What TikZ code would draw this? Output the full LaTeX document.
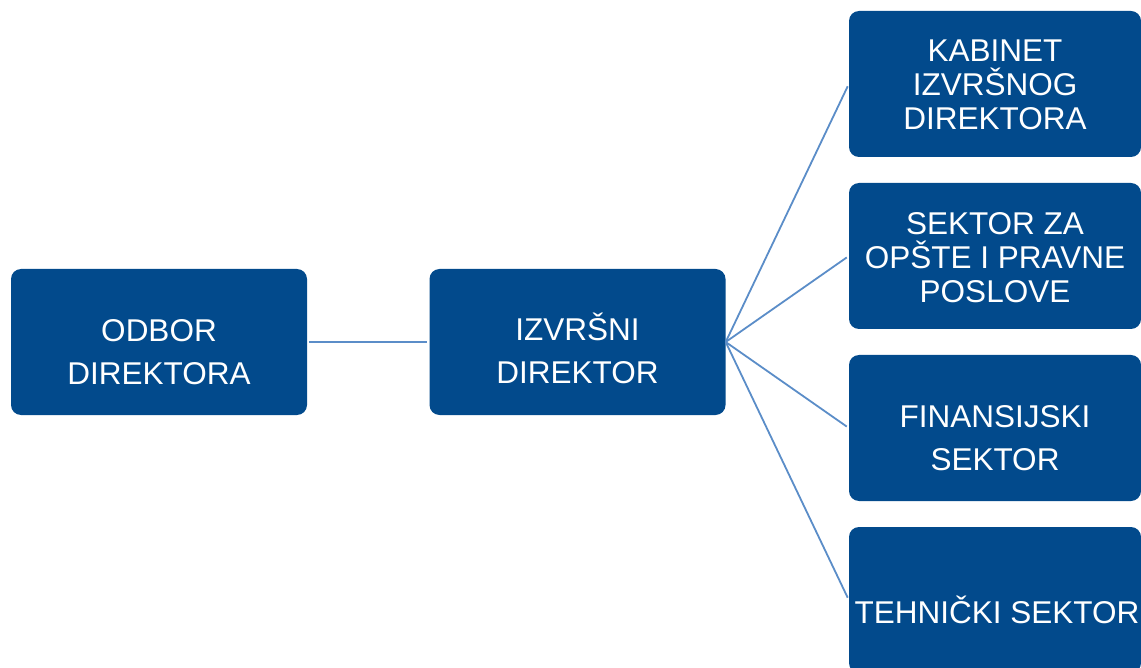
\documentclass[tikz,border=0pt]{standalone}
\usepackage{fontspec}
\setmainfont{Liberation Sans}
\definecolor{boxblue}{HTML}{024A8C}
\definecolor{linkblue}{HTML}{5B8DC8}
\begin{document}
\begin{tikzpicture}[x=1pt,y=-1pt,
  orgbox/.style={rectangle, rounded corners=10pt, fill=boxblue, draw=none, inner sep=0pt, minimum height=146pt},
  wide/.style={orgbox, minimum width=296pt},
  side/.style={orgbox, minimum width=292pt},
  lbl/.style={text=white, align=center, inner sep=0pt},
  loose/.style={lbl, font=\fontsize{31.5}{42.5}\selectfont},
  tight/.style={lbl, font=\fontsize{31.5}{34}\selectfont},
  link/.style={draw=linkblue, line width=1.8pt}]
\useasboundingbox (0,0) rectangle (1141,668);
\node[wide] (odbor) at (159,342) {};
\node[wide] (izvrsni) at (577.5,342) {};
\node[side] (kab) at (995,84) {};
\node[side] (opste) at (995,256) {};
\node[side] (fin) at (995,428) {};
\node[side] (teh) at (995,600) {};
\node[loose] (todbor) at (159,352) {ODBOR\\DIREKTORA};
\node[loose] (tizvrsni) at (577.5,348.5) {IZVRŠNI\\DIREKTOR};
\node[tight] (tkab) at (995,85) {KABINET\\IZVRŠNOG\\DIREKTORA};
\node[tight] (topste) at (995,257.5) {SEKTOR ZA\\OPŠTE I PRAVNE\\POSLOVE};
\node[loose] (tfin) at (995,438) {FINANSIJSKI\\SEKTOR};
\node[lbl, font=\fontsize{31.5}{34}\selectfont, anchor=base] (tteh) at (997,623) {TEHNIČKI SEKTOR};
\draw[link, shorten <=2pt, shorten >=2.5pt] (odbor.east) -- (izvrsni.west);
\foreach \t in {kab,opste,fin,teh}
  \draw[link, shorten >=2.5pt] (izvrsni.east) -- (\t.west);
\end{tikzpicture}
\end{document}
